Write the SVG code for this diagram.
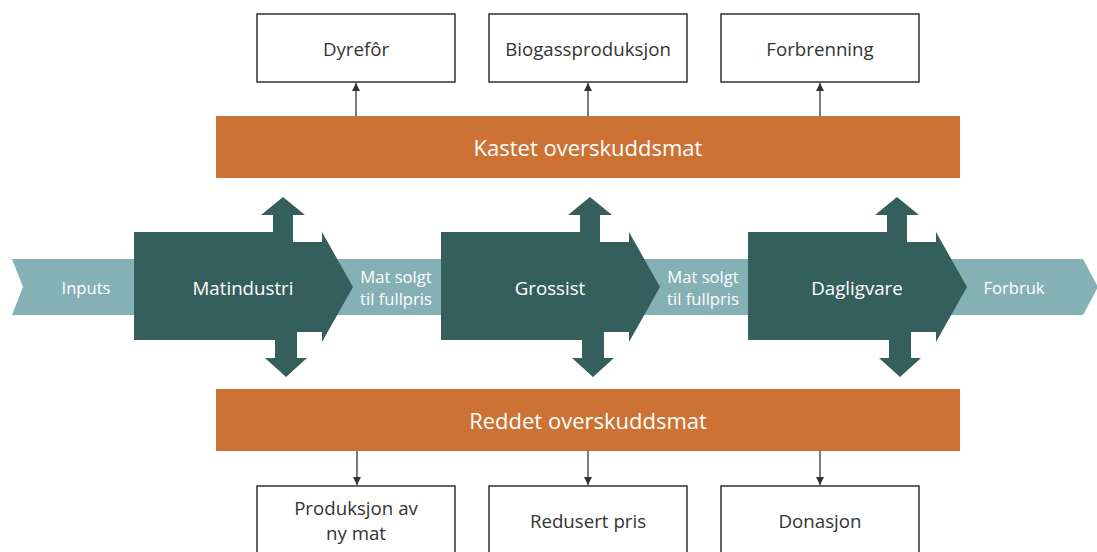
<svg xmlns="http://www.w3.org/2000/svg" width="1097" height="552" viewBox="0 0 1097 552">
  <style>
    .band { fill: #85B0B5; }
    .stage { fill: #355F5D; }
    .bar { fill: #CC7234; }
    .box { fill: #ffffff; stroke: #333333; stroke-width: 1.5; }
    .wt { fill: #ffffff; font-family: "Open Sans", "Noto Sans", sans-serif; text-anchor: middle; dominant-baseline: central; }
    .bt { fill: #333333; font-family: "Open Sans", "Noto Sans", sans-serif; font-size: 18.7px; text-anchor: middle; dominant-baseline: central; }
    .s15 { font-size: 16.6px; }
    .s17 { font-size: 18.7px; }
    .s20 { font-size: 22px; }
    .conn { stroke: #333333; stroke-width: 1.3; fill: none; marker-end: url(#ah); }
  </style>
  <defs>
    <marker id="ah" viewBox="0 0 10 10" refX="10" refY="5" markerWidth="8" markerHeight="8" markerUnits="userSpaceOnUse" orient="auto">
      <path d="M0,0 L10,5 L0,10 Z" fill="#333333"/>
    </marker>
    <path id="stageShape" d="M0,232 L139,232 L139,215 L127,215 L149,197 L171,215 L159,215 L159,242 L188,242 L188,232 L219,287 L188,342 L188,332 L163,332 L163,358 L173,358 L152,377 L131,358 L141,358 L141,340 L0,340 Z"/>
  </defs>

  <g id="flow-band">
    <polygon class="band" points="12,259 1083,259 1098,287 1083,315 12,315 23,287"/>
  </g>

  <g id="node-inputs">
    <text class="wt s15" x="86" y="287">Inputs</text>
  </g>

  <g id="node-matindustri">
    <use href="#stageShape" class="stage" x="134"/>
    <text class="wt s17" x="243" y="287">Matindustri</text>
  </g>

  <g id="node-solgt1">
    <text class="wt s15" x="396" y="276">Mat solgt</text>
    <text class="wt s15" x="396" y="298">til fullpris</text>
  </g>

  <g id="node-grossist">
    <use href="#stageShape" class="stage" x="441"/>
    <text class="wt s17" x="550" y="287">Grossist</text>
  </g>

  <g id="node-solgt2">
    <text class="wt s15" x="703" y="276">Mat solgt</text>
    <text class="wt s15" x="703" y="298">til fullpris</text>
  </g>

  <g id="node-dagligvare">
    <use href="#stageShape" class="stage" x="748"/>
    <text class="wt s17" x="857" y="287">Dagligvare</text>
  </g>

  <g id="node-forbruk">
    <text class="wt s15" x="1014" y="287">Forbruk</text>
  </g>

  <g id="node-kastet">
    <rect class="bar" x="216" y="116" width="744" height="62"/>
    <text class="wt s20" x="588" y="147">Kastet overskuddsmat</text>
  </g>

  <g id="node-reddet">
    <rect class="bar" x="216" y="389" width="744" height="62"/>
    <text class="wt s20" x="588" y="420">Reddet overskuddsmat</text>
  </g>

  <g id="node-dyrefor">
    <rect class="box" x="257" y="14" width="198" height="68"/>
    <text class="bt" x="356" y="48">Dyrefôr</text>
  </g>
  <g id="node-biogass">
    <rect class="box" x="489" y="14" width="198" height="68"/>
    <text class="bt" x="588" y="48">Biogassproduksjon</text>
  </g>
  <g id="node-forbrenning">
    <rect class="box" x="721" y="14" width="198" height="68"/>
    <text class="bt" x="820" y="48">Forbrenning</text>
  </g>

  <g id="node-produksjon">
    <rect class="box" x="257" y="486" width="198" height="70"/>
    <text class="bt" x="356" y="507">Produksjon av</text>
    <text class="bt" x="356" y="532">ny mat</text>
  </g>
  <g id="node-redusert">
    <rect class="box" x="489" y="486" width="198" height="70"/>
    <text class="bt" x="588" y="520">Redusert pris</text>
  </g>
  <g id="node-donasjon">
    <rect class="box" x="721" y="486" width="198" height="70"/>
    <text class="bt" x="820" y="520">Donasjon</text>
  </g>

  <g id="connectors">
    <line class="conn" x1="356" y1="116" x2="356" y2="83"/>
    <line class="conn" x1="588" y1="116" x2="588" y2="83"/>
    <line class="conn" x1="820" y1="116" x2="820" y2="83"/>
    <line class="conn" x1="357" y1="451" x2="357" y2="485"/>
    <line class="conn" x1="588" y1="451" x2="588" y2="485"/>
    <line class="conn" x1="820" y1="451" x2="820" y2="485"/>
  </g>
</svg>
